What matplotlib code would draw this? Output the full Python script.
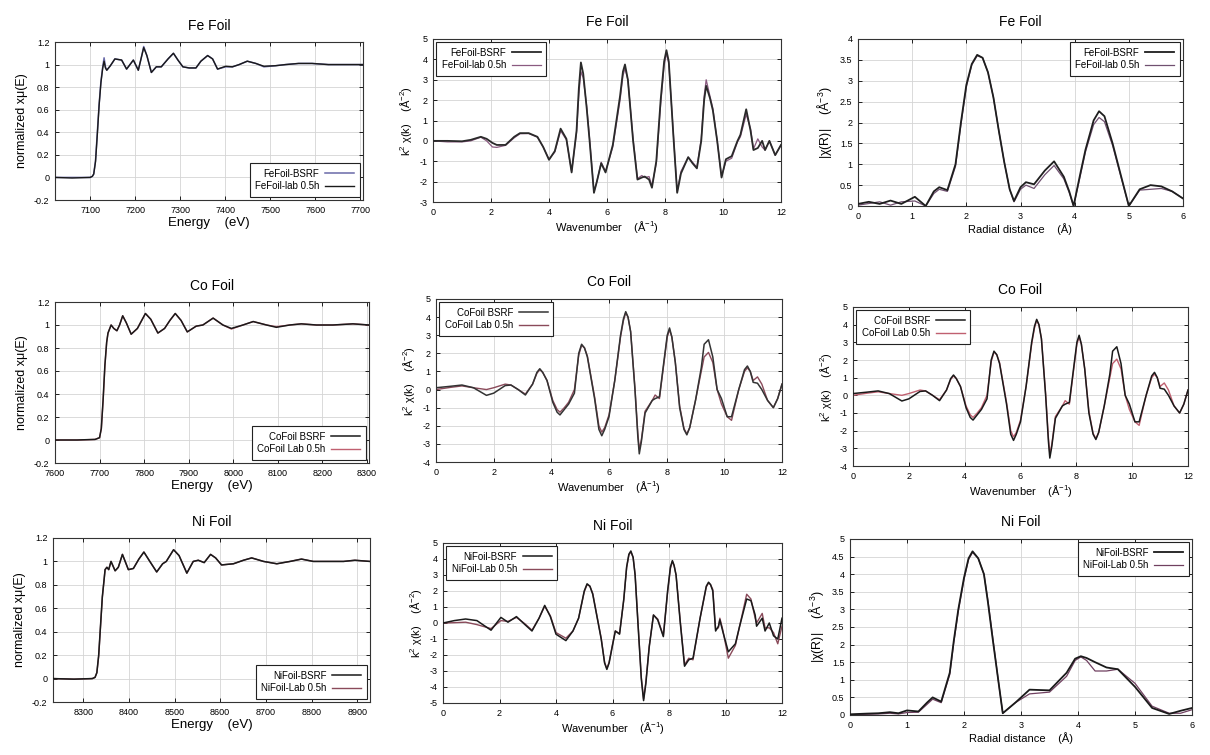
import numpy as np
import matplotlib
matplotlib.use("Agg")
import matplotlib.pyplot as plt
from matplotlib.ticker import FormatStrFormatter, MultipleLocator

plt.rcParams['font.family'] = ['Liberation Sans', 'DejaVu Sans']
plt.rcParams['mathtext.fontset'] = 'custom'
plt.rcParams['mathtext.rm'] = 'Liberation Sans'
plt.rcParams['mathtext.it'] = 'Liberation Sans'

# ---------------- data ----------------

# Fe XANES
fe_e = [7022, 7060, 7100, 7105, 7108, 7112, 7116, 7120, 7124, 7128,
        7131, 7134, 7137, 7145, 7155, 7170, 7181, 7196, 7207, 7213,
        7219, 7226, 7236, 7247, 7258, 7273, 7285, 7295, 7306, 7320,
        7335, 7346, 7361, 7372, 7383, 7401, 7416, 7431, 7449, 7468,
        7486, 7512, 7534, 7563, 7593, 7629, 7670, 7706]
fe_mu_bsrf = [0, 0, 0, 0.01, 0.03, 0.15, 0.4, 0.65, 0.85, 0.98,
              1.06, 0.98, 0.95, 0.99, 1.05, 1.04, 0.96, 1.04, 0.95, 1.05,
              1.16, 1.08, 0.93, 0.98, 0.98, 1.05, 1.10, 1.04, 0.98, 0.97,
              0.97, 1.03, 1.08, 1.05, 0.96, 0.98, 0.98, 1.00, 1.03, 1.01,
              0.98, 0.99, 1.00, 1.01, 1.01, 1.00, 1.00, 1.00]
fe_mu_lab = [0, -0.005, 0, 0.01, 0.03, 0.14, 0.38, 0.64, 0.84, 0.97,
             1.03, 0.97, 0.95, 0.99, 1.05, 1.04, 0.96, 1.04, 0.95, 1.05,
             1.15, 1.08, 0.93, 0.98, 0.98, 1.05, 1.10, 1.04, 0.98, 0.97,
             0.97, 1.03, 1.08, 1.05, 0.96, 0.985, 0.98, 1.00, 1.03, 1.01,
             0.985, 0.99, 1.00, 1.01, 1.01, 1.00, 1.00, 1.00]

# Fe k-space
fe_k = [0, 0.5, 1.0, 1.3, 1.65, 1.85, 2.05, 2.2, 2.5, 2.8,
        3.0, 3.3, 3.6, 3.8, 4.0, 4.2, 4.4, 4.6, 4.78, 4.95,
        5.03, 5.1, 5.18, 5.3, 5.4, 5.55, 5.65, 5.8, 5.95, 6.2,
        6.45, 6.55, 6.62, 6.72, 6.9, 7.05, 7.2, 7.3, 7.45, 7.55,
        7.7, 7.85, 7.97, 8.05, 8.13, 8.3, 8.42, 8.55, 8.8, 8.95,
        9.1, 9.25, 9.35, 9.42, 9.55, 9.65, 9.8, 9.95, 10.1, 10.3,
        10.5, 10.6, 10.8, 10.95, 11.05, 11.2, 11.35, 11.45, 11.6, 11.8,
        12.0]
fe_chi_bsrf = [0, 0, -0.02, 0.05, 0.2, 0.1, -0.1, -0.2, -0.2, 0.2,
               0.38, 0.38, 0.2, -0.3, -0.93, -0.5, 0.6, 0.1, -1.55, 0.5,
               2.6, 3.85, 3.3, 1.6, 0, -2.55, -2.0, -1.1, -1.55, -0.2,
               2.2, 3.4, 3.75, 3.0, 0, -1.9, -1.8, -1.75, -1.9, -2.3,
               -1.0, 2.0, 3.9, 4.45, 3.9, 0, -2.55, -1.6, -0.8, -1.1,
               -1.35, 0, 2.0, 2.7, 2.1, 1.5, 0, -1.8, -0.9, -0.75,
               0, 0.3, 1.55, 0.5, -0.45, -0.35, 0, -0.45, 0, -0.7,
               -0.2]
fe_chi_lab = [0, -0.05, -0.05, 0.0, 0.18, 0.0, -0.3, -0.32, -0.22, 0.15,
              0.35, 0.36, 0.18, -0.3, -0.9, -0.55, 0.5, 0.05, -1.5, 0.4,
              2.3, 3.4, 3.1, 1.7, 0.1, -2.5, -2.0, -1.05, -1.5, -0.3,
              2.0, 3.2, 3.55, 3.0, 0.1, -1.85, -1.7, -1.8, -1.75, -2.2,
              -1.1, 1.8, 3.7, 4.3, 3.8, 0.1, -2.5, -1.5, -0.8, -1.05,
              -1.3, 0.1, 2.2, 3.0, 2.2, 1.6, 0.0, -1.75, -1.0, -0.85,
              -0.05, 0.2, 1.3, 0.6, -0.4, 0.1, -0.3, -0.45, 0, -0.7,
              -0.2]

# Fe R-space
fe_r = [0, 0.2, 0.4, 0.6, 0.8, 1.05, 1.25, 1.4, 1.5, 1.65,
        1.8, 1.9, 2.0, 2.1, 2.2, 2.3, 2.4, 2.5, 2.6, 2.7,
        2.8, 2.88, 3.0, 3.1, 3.25, 3.45, 3.62, 3.8, 3.9, 3.98,
        4.1, 4.2, 4.35, 4.45, 4.55, 4.7, 4.85, 5.0, 5.2, 5.4,
        5.6, 5.8, 6.0]
fe_ft_bsrf = [0.05, 0.1, 0.05, 0.13, 0.05, 0.22, 0.0, 0.35, 0.45, 0.38,
              1.0, 2.0, 2.9, 3.4, 3.62, 3.55, 3.2, 2.6, 1.8, 1.05,
              0.4, 0.12, 0.45, 0.57, 0.52, 0.85, 1.07, 0.7, 0.35, 0.0,
              0.75, 1.35, 2.05, 2.27, 2.15, 1.5, 0.75, 0.0, 0.4, 0.5,
              0.47, 0.35, 0.18]
fe_ft_lab = [0.02, 0.06, 0.1, 0.02, 0.1, 0.12, 0.0, 0.3, 0.4, 0.35,
             0.95, 1.95, 2.85, 3.38, 3.6, 3.55, 3.2, 2.6, 1.8, 1.05,
             0.4, 0.1, 0.4, 0.5, 0.42, 0.75, 0.97, 0.65, 0.32, 0.0,
             0.7, 1.3, 1.95, 2.12, 2.02, 1.45, 0.72, 0.0, 0.38, 0.4,
             0.42, 0.35, 0.18]

# Co XANES
co_e = [7600, 7650, 7690, 7700, 7704, 7708, 7712, 7716, 7719, 7726,
        7732, 7739, 7745, 7752, 7760, 7771, 7785, 7803, 7815, 7831,
        7846, 7858, 7870, 7883, 7897, 7917, 7932, 7955, 7977, 7996,
        8022, 8045, 8075, 8097, 8127, 8153, 8187, 8224, 8269, 8305]
co_mu_bsrf = [0, 0, 0.005, 0.02, 0.1, 0.35, 0.65, 0.85, 0.93, 1.0,
              0.97, 0.95, 1.0, 1.08, 1.02, 0.92, 0.97, 1.10, 1.05, 0.93,
              0.97, 1.04, 1.10, 1.04, 0.94, 0.99, 1.0, 1.06, 1.0, 0.97,
              1.0, 1.03, 1.0, 0.98, 1.0, 1.01, 1.0, 1.0, 1.01, 1.0]
co_mu_lab = [0, 0, 0.005, 0.02, 0.1, 0.34, 0.64, 0.85, 0.93, 1.0,
             0.97, 0.95, 1.0, 1.08, 1.02, 0.92, 0.97, 1.10, 1.05, 0.93,
             0.97, 1.04, 1.10, 1.04, 0.94, 0.99, 1.0, 1.06, 1.0, 0.965,
             1.0, 1.03, 1.0, 0.985, 1.0, 1.01, 1.0, 1.0, 1.01, 1.0]

# Co k-space
co_k = [0, 0.5, 0.9, 1.3, 1.75, 2.0, 2.4, 2.6, 2.85, 3.1,
        3.35, 3.5, 3.6, 3.7, 3.85, 4.05, 4.2, 4.3, 4.45, 4.6,
        4.8, 4.95, 5.05, 5.15, 5.25, 5.5, 5.65, 5.75, 5.85, 6.0,
        6.2, 6.4, 6.5, 6.58, 6.66, 6.75, 6.9, 7.0, 7.05, 7.12,
        7.25, 7.5, 7.6, 7.75, 7.9, 8.02, 8.1, 8.18, 8.3, 8.45,
        8.6, 8.7, 8.8, 9.0, 9.2, 9.3, 9.45, 9.6, 9.75, 9.9,
        10.1, 10.25, 10.5, 10.7, 10.8, 10.9, 11.0, 11.15, 11.3, 11.5,
        11.7, 11.85, 12.0]
co_chi_bsrf = [0.1, 0.18, 0.25, 0.1, -0.32, -0.2, 0.22, 0.25, 0.0, -0.3,
               0.3, 0.95, 1.15, 0.95, 0.5, -0.7, -1.25, -1.4, -1.1, -0.8,
               -0.2, 2.0, 2.5, 2.3, 1.8, -0.5, -2.2, -2.55, -2.2, -1.5,
               0.5, 3.0, 3.9, 4.3, 4.0, 3.2, 0.0, -2.6, -3.55, -2.9,
               -1.3, -0.6, -0.5, -0.4, 1.5, 3.0, 3.4, 2.9, 1.5, -1.0,
               -2.2, -2.5, -2.1, -0.6, 1.2, 2.5, 2.75, 1.8, 0.0, -0.5,
               -1.5, -1.5, 0.0, 1.1, 1.3, 1.0, 0.4, 0.35, 0.0, -0.6,
               -1.0, -0.5, 0.3]
co_chi_lab = [0.0, 0.12, 0.2, 0.1, 0.0, 0.1, 0.3, 0.25, 0.0, -0.25,
              0.3, 0.9, 1.1, 0.95, 0.5, -0.6, -1.1, -1.25, -1.0, -0.7,
              0.0, 1.9, 2.45, 2.3, 1.85, -0.4, -2.0, -2.35, -2.1, -1.4,
              0.5, 2.9, 3.8, 4.25, 4.0, 3.2, 0.1, -2.4, -3.3, -2.8,
              -1.2, -0.6, -0.3, -0.5, 1.4, 2.9, 3.3, 2.9, 1.5, -0.9,
              -2.15, -2.45, -2.1, -0.6, 1.0, 1.8, 2.05, 1.5, 0.0, -0.8,
              -1.5, -1.7, 0.0, 1.0, 1.2, 1.0, 0.5, 0.7, 0.3, -0.6,
              -1.0, -0.5, 0.3]

# Ni XANES
ni_e = [8234, 8280, 8320, 8326, 8330, 8334, 8338, 8342, 8346, 8348,
        8352, 8356, 8361, 8370, 8377, 8386, 8399, 8410, 8422, 8433,
        8446, 8461, 8474, 8482, 8498, 8510, 8527, 8541, 8552, 8565,
        8579, 8590, 8603, 8629, 8651, 8669, 8695, 8724, 8753, 8778,
        8804, 8833, 8870, 8895, 8928]
ni_mu_bsrf = [0, -0.005, 0, 0.01, 0.05, 0.2, 0.45, 0.7, 0.85, 0.93,
              0.95, 0.93, 1.0, 0.92, 0.95, 1.06, 0.93, 0.94, 1.02, 1.08,
              1.0, 0.91, 0.98, 1.0, 1.10, 1.05, 0.90, 1.0, 1.01, 0.99,
              1.06, 1.03, 0.97, 0.98, 1.01, 1.03, 1.0, 0.98, 1.0, 1.02,
              1.0, 1.0, 1.0, 1.01, 1.0]
ni_mu_lab = [0, -0.005, 0, 0.01, 0.05, 0.19, 0.44, 0.69, 0.85, 0.93,
             0.95, 0.93, 1.0, 0.92, 0.95, 1.06, 0.93, 0.94, 1.02, 1.08,
             1.0, 0.91, 0.98, 1.0, 1.10, 1.05, 0.90, 1.0, 1.01, 0.99,
             1.06, 1.03, 0.97, 0.98, 1.01, 1.03, 1.0, 0.98, 1.0, 1.02,
             1.0, 1.0, 1.0, 1.01, 1.0]

# Ni k-space
ni_k = [0, 0.4, 0.8, 1.2, 1.7, 2.05, 2.3, 2.6, 2.9, 3.15,
        3.4, 3.6, 3.8, 4.0, 4.35, 4.6, 4.8, 5.0, 5.1, 5.2,
        5.3, 5.6, 5.72, 5.8, 5.88, 6.0, 6.1, 6.25, 6.4, 6.5,
        6.58, 6.65, 6.73, 6.8, 6.9, 7.02, 7.1, 7.18, 7.3, 7.45,
        7.6, 7.8, 7.95, 8.05, 8.12, 8.18, 8.25, 8.4, 8.55, 8.7,
        8.85, 9.1, 9.32, 9.4, 9.47, 9.55, 9.65, 9.75, 9.8, 9.9,
        10.1, 10.35, 10.5, 10.75, 10.9, 11.05, 11.1, 11.3, 11.4, 11.55,
        11.7, 11.85, 12.0]
ni_chi_bsrf = [0, 0.15, 0.25, 0.15, -0.45, 0.35, 0.05, 0.4, -0.1, -0.5,
               0.3, 1.1, 0.4, -0.7, -1.1, -0.5, 0.3, 2.0, 2.45, 2.3,
               1.8, -1.0, -2.5, -2.9, -2.5, -1.4, -0.5, -0.7, 1.5, 3.5,
               4.3, 4.5, 4.1, 3.0, 0.0, -3.5, -4.85, -3.8, -1.5, 0.5,
               0.2, -0.85, 2.0, 3.5, 3.9, 3.6, 3.0, 0.0, -2.7, -2.3,
               -2.2, 0.3, 2.3, 2.55, 2.4, 2.0, -0.5, -0.2, 0.2, -0.5,
               -1.8, -1.3, -0.2, 1.5, 1.4, 0.5, -0.2, 0.3, -0.5, 0.0,
               -0.8, -1.0, 0.3]
ni_chi_lab = [0, 0.02, 0.05, -0.1, -0.35, 0.15, 0.1, 0.35, -0.05, -0.45,
              0.3, 1.05, 0.45, -0.6, -0.95, -0.5, 0.3, 1.95, 2.4, 2.3,
              1.85, -0.95, -2.45, -2.85, -2.45, -1.35, -0.5, -0.65, 1.45, 3.45,
              4.25, 4.45, 4.1, 3.05, 0.1, -3.4, -4.75, -3.7, -1.45, 0.5,
              0.25, -0.8, 1.9, 3.4, 3.85, 3.6, 3.0, 0.1, -2.6, -2.2,
              -2.3, 0.3, 2.25, 2.5, 2.4, 2.1, -0.4, -0.3, 0.3, -0.4,
              -2.2, -1.4, -0.2, 1.8, 1.5, 0.3, 0.0, 0.6, -0.3, -0.3,
              -0.6, -1.3, -0.2]

# Ni R-space
ni_r = [0, 0.3, 0.5, 0.7, 0.85, 1.0, 1.2, 1.35, 1.45, 1.6,
        1.75, 1.82, 1.9, 2.0, 2.08, 2.15, 2.25, 2.35, 2.42, 2.5,
        2.6, 2.68, 2.9, 3.15, 3.5, 3.8, 3.95, 4.05, 4.15, 4.3,
        4.5, 4.7, 5.0, 5.3, 5.6, 5.8, 6.0]
ni_ft_bsrf = [0.02, 0.04, 0.05, 0.08, 0.05, 0.13, 0.1, 0.35, 0.5, 0.38,
              1.2, 2.1, 3.0, 3.9, 4.45, 4.65, 4.45, 4.0, 3.2, 2.2,
              1.0, 0.05, 0.35, 0.72, 0.7, 1.2, 1.6, 1.67, 1.62, 1.5,
              1.35, 1.3, 0.8, 0.2, 0.03, 0.12, 0.2]
ni_ft_lab = [0.01, 0.02, 0.03, 0.05, 0.03, 0.07, 0.08, 0.3, 0.45, 0.35,
             1.15, 2.05, 2.95, 3.85, 4.42, 4.62, 4.45, 4.0, 3.25, 2.25,
             1.0, 0.05, 0.35, 0.6, 0.65, 1.1, 1.55, 1.65, 1.55, 1.25,
             1.25, 1.3, 0.9, 0.25, 0.05, 0.05, 0.15]

# ---------------- drawing ----------------

W, H = 1210, 755
fig = plt.figure(figsize=(W / 100, H / 100), dpi=100)

XL_E = 'Energy    (eV)'
XL_K = 'Wavenumber    (Å$^{-1}$)'
XL_R = 'Radial distance    (Å)'
YL_E = 'normalized xμ(E)'
YL_K = 'k$^{2}$ χ(k)    (Å$^{-2}$)'
YL_R = '|χ(R)|    (Å$^{-3}$)'


def panel(box, title, x, y1, y2, labels, colors, xlim, ylim, xstep, ystep,
          xlabel, ylabel, loc, xfs=8, yfs=8, lws=(1.1, 1.0), bsrf_top=True):
    l, r, t, b = box
    ax = fig.add_axes([l / W, 1 - b / H, (r - l) / W, (b - t) / H])
    z1, z2 = (3, 2) if bsrf_top else (2, 3)
    ax.plot(x, y1, color=colors[0], lw=lws[0], label=labels[0], zorder=z1,
            solid_joinstyle='round')
    ax.plot(x, y2, color=colors[1], lw=lws[1], label=labels[1], zorder=z2,
            solid_joinstyle='round')
    ax.set_xlim(*xlim)
    ax.set_ylim(*ylim)
    ax.xaxis.set_major_locator(MultipleLocator(xstep))
    ax.yaxis.set_major_locator(MultipleLocator(ystep))
    ax.xaxis.set_major_formatter(FormatStrFormatter('%g'))
    ax.yaxis.set_major_formatter(FormatStrFormatter('%g'))
    ax.grid(True, color='#d4d4d4', lw=0.6)
    ax.set_axisbelow(True)
    ax.tick_params(direction='in', top=True, right=True, length=3,
                   width=0.6, labelsize=6.5, pad=4)
    for s in ax.spines.values():
        s.set_linewidth(0.8)
        s.set_color('#333333')
    ax.set_title(title, fontsize=10, pad=9)
    ax.set_xlabel(xlabel, fontsize=xfs, labelpad=2)
    ax.set_ylabel(ylabel, fontsize=yfs, labelpad=4)
    leg = ax.legend(loc=loc, fontsize=7, markerfirst=False, fancybox=False,
                    framealpha=1, edgecolor='#222222', handlelength=3.0,
                    borderaxespad=0.35, borderpad=0.55, labelspacing=0.25,
                    handletextpad=0.6)
    leg.get_frame().set_linewidth(0.8)
    return ax


# row 1: Fe
panel((55, 363, 42, 200), 'Fe Foil', fe_e, fe_mu_bsrf, fe_mu_lab,
      ('FeFoil-BSRF', 'FeFoil-lab 0.5h'), ('#6a6aa8', '#1a1a1a'),
      (7022, 7706), (-0.2, 1.2), 100, 0.2, XL_E, YL_E, 'lower right',
      xfs=9.5, yfs=9, bsrf_top=False)
panel((433, 781, 39, 202), 'Fe Foil', fe_k, fe_chi_bsrf, fe_chi_lab,
      ('FeFoil-BSRF', 'FeFoil-lab 0.5h'), ('#2a2a2a', '#8a5a80'),
      (0, 12), (-3, 5), 2, 1, XL_K, YL_K, 'upper left', lws=(1.3, 0.9))
panel((858, 1183, 39, 206), 'Fe Foil', fe_r, fe_ft_bsrf, fe_ft_lab,
      ('FeFoil-BSRF', 'FeFoil-lab 0.5h'), ('#1e1e1e', '#705070'),
      (0, 6), (0, 4), 1, 0.5, XL_R, YL_R, 'upper right', yfs=9,
      lws=(1.3, 0.9))

# row 2: Co
panel((55, 369, 302, 463), 'Co Foil', co_e, co_mu_bsrf, co_mu_lab,
      ('CoFoil BSRF', 'CoFoil Lab 0.5h'), ('#1a1a1a', '#c06070'),
      (7600, 8305), (-0.2, 1.2), 100, 0.2, XL_E, YL_E, 'lower right',
      xfs=9.5, yfs=9)
panel((436, 782, 299, 462), 'Co Foil', co_k, co_chi_bsrf, co_chi_lab,
      ('CoFoil BSRF', 'CoFoil Lab 0.5h'), ('#333333', '#8a4a5a'),
      (0, 12), (-4, 5), 2, 1, XL_K, YL_K, 'upper left')
panel((853, 1188, 307, 466), 'Co Foil', co_k, co_chi_bsrf, co_chi_lab,
      ('CoFoil BSRF', 'CoFoil Lab 0.5h'), ('#1a1a1a', '#c06070'),
      (0, 12), (-4, 5), 2, 1, XL_K, YL_K, 'upper left')

# row 3: Ni
panel((53, 370, 538, 702), 'Ni Foil', ni_e, ni_mu_bsrf, ni_mu_lab,
      ('NiFoil-BSRF', 'NiFoil-Lab 0.5h'), ('#1a1a1a', '#8a4a5a'),
      (8234, 8928), (-0.2, 1.2), 100, 0.2, XL_E, YL_E, 'lower right',
      xfs=9.5, yfs=9)
panel((443, 782, 543, 703), 'Ni Foil', ni_k, ni_chi_bsrf, ni_chi_lab,
      ('NiFoil-BSRF', 'NiFoil-Lab 0.5h'), ('#1a1a1a', '#8a4a5a'),
      (0, 12), (-5, 5), 2, 1, XL_K, YL_K, 'upper left')
panel((850, 1192, 539, 715), 'Ni Foil', ni_r, ni_ft_bsrf, ni_ft_lab,
      ('NiFoil-BSRF', 'NiFoil-Lab 0.5h'), ('#1a1a1a', '#704060'),
      (0, 6), (0, 5), 1, 0.5, XL_R, YL_R, 'upper right', yfs=9,
      lws=(1.3, 0.9))

fig.savefig('out.png', dpi=100)
